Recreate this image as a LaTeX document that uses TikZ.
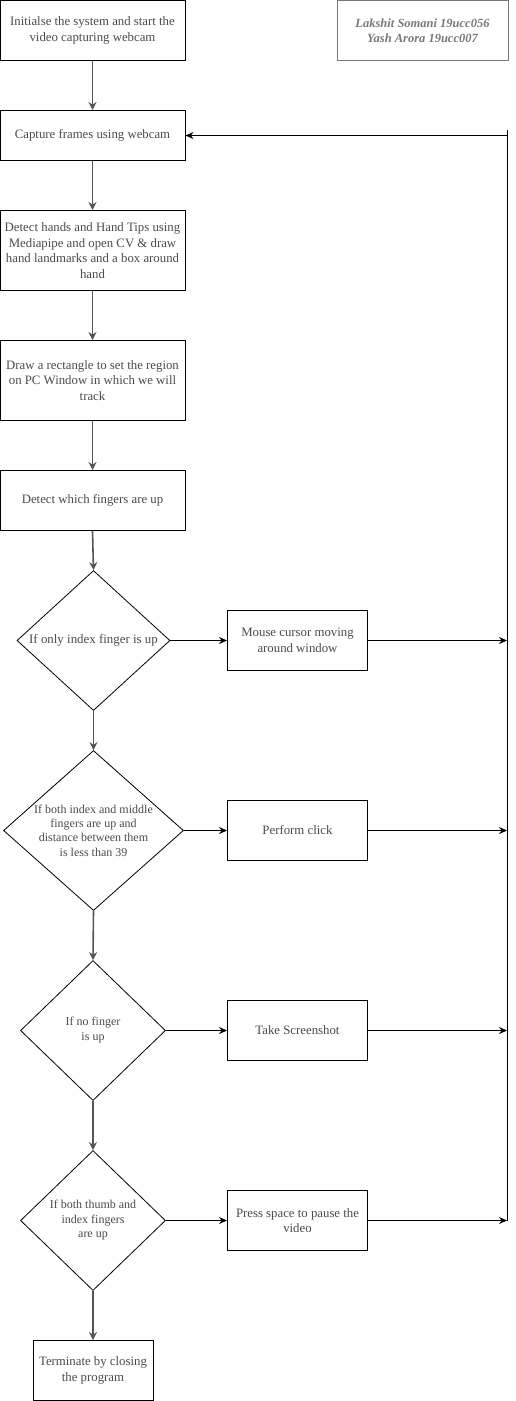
\documentclass[tikz,border=0pt]{standalone}
\usepackage{fontspec}
\setmainfont{Liberation Serif}
\usetikzlibrary{shapes.geometric,arrows.meta}
\definecolor{txtgray}{RGB}{75,75,75}
\definecolor{authgray}{RGB}{120,120,120}
\definecolor{linegray}{RGB}{85,85,85}
\tikzset{
  box/.style={draw=black, line width=1pt, rectangle, inner sep=0pt, align=center,
    text=txtgray, font=\fontsize{12.8}{15.5}\selectfont},
  dia/.style={draw=black, line width=0.8pt, diamond, inner sep=0pt},
  diatext/.style={align=center, text=txtgray, inner sep=0pt},
  vflow/.style={draw=linegray, line width=1.6pt, -{Stealth[length=8pt,width=8pt]}},
  hflow/.style={draw=black, line width=1pt, -{Stealth[length=8pt,width=7pt]}},
  plain/.style={draw=black, line width=1pt}
}
\begin{document}
\begin{tikzpicture}[x=1pt,y=-1pt]
\useasboundingbox (0,0) rectangle (516,1401);
\fill[white] (0,0) rectangle (516,1401);

\node[box, minimum width=185pt, minimum height=60pt] (b1) at (92.5,30.5)
  {Initialse the system and start the\\video capturing webcam};
\node[box, draw=authgray, text=authgray, minimum width=171pt, minimum height=60pt,
  font=\bfseries\itshape\fontsize{12.5}{15.5}\selectfont] (auth) at (422.5,30.5)
  {Lakshit Somani 19ucc056\\Yash Arora 19ucc007};
\node[box, minimum width=185pt, minimum height=50pt] (b2) at (92.5,135.5)
  {Capture frames using webcam};
\node[box, minimum width=185pt, minimum height=80pt] (b3) at (92.5,250.5)
  {Detect hands and Hand Tips using\\Mediapipe and open CV \& draw\\hand landmarks and a box around\\hand};
\node[box, minimum width=185pt, minimum height=80pt] (b4) at (92.5,380.5)
  {Draw a rectangle to set the region\\on PC Window in which we will\\track};
\node[box, minimum width=185pt, minimum height=60pt] (b5) at (92.5,500.5)
  {Detect which fingers are up};

\node[dia, minimum width=153pt, minimum height=140pt] (d1) at (93.5,640.5) {};
\node[diatext, font=\fontsize{12.9}{15.5}\selectfont] at (d1) {If only index finger is up};
\node[box, minimum width=140pt, minimum height=60pt] (b6) at (297.5,640.5)
  {Mouse cursor moving\\around window};

\node[dia, minimum width=180pt, minimum height=160pt] (d2) at (93.5,830.5) {};
\node[diatext, font=\fontsize{12}{14.3}\selectfont] at (d2)
  {If both index and middle\\fingers are up and\\distance between them\\is less than 39};
\node[box, minimum width=140pt, minimum height=60pt] (b7) at (297.5,830.5)
  {Perform click};

\node[dia, minimum width=145pt, minimum height=140pt] (d3) at (93,1030.5) {};
\node[diatext, font=\fontsize{12}{15}\selectfont] at (d3) {If no finger\\is up};
\node[box, minimum width=140pt, minimum height=60pt] (b8) at (297.5,1030.5)
  {Take Screenshot};

\node[dia, minimum width=145pt, minimum height=140pt] (d4) at (93,1220.5) {};
\node[diatext, font=\fontsize{12}{14.5}\selectfont] at (d4)
  {If both thumb and\\index fingers\\are up};
\node[box, minimum width=140pt, minimum height=60pt] (b9) at (297.5,1220.5)
  {Press space to pause the\\video};

\node[box, minimum width=120pt, minimum height=60pt] (b10) at (93,1370.5)
  {Terminate by closing\\the program};

% main vertical flow
\draw[vflow] (b1) -- (b2);
\draw[vflow] (b2) -- (b3);
\draw[vflow] (b3) -- (b4);
\draw[vflow] (b4) -- (b5);
\draw[vflow] (b5.south) -- (d1.north);
\draw[vflow] (d1.south) -- (d2.north);
\draw[vflow] (d2.south) -- (d3.north);
\draw[vflow] (d3.south) -- (d4.north);
\draw[vflow] (d4.south) -- (b10.north);

% decisions to actions
\draw[hflow] (d1.east) -- (b6.west);
\draw[hflow] (d2.east) -- (b7.west);
\draw[hflow] (d3.east) -- (b8.west);
\draw[hflow] (d4.east) -- (b9.west);

% return bus
\coordinate (rtop) at (507,130);
\coordinate (rret) at (507,135.5);
\coordinate (r1) at (507,640.5);
\coordinate (r2) at (507,830.5);
\coordinate (r3) at (507,1030.5);
\coordinate (r4) at (507,1220.5);
\draw[plain] (rtop) -- (r4);
\draw[hflow] (rret) -- (b2.east);
\draw[hflow] (b6.east) -- (r1);
\draw[hflow] (b7.east) -- (r2);
\draw[hflow] (b8.east) -- (r3);
\draw[hflow] (b9.east) -- (r4);
\end{tikzpicture}
\end{document}
